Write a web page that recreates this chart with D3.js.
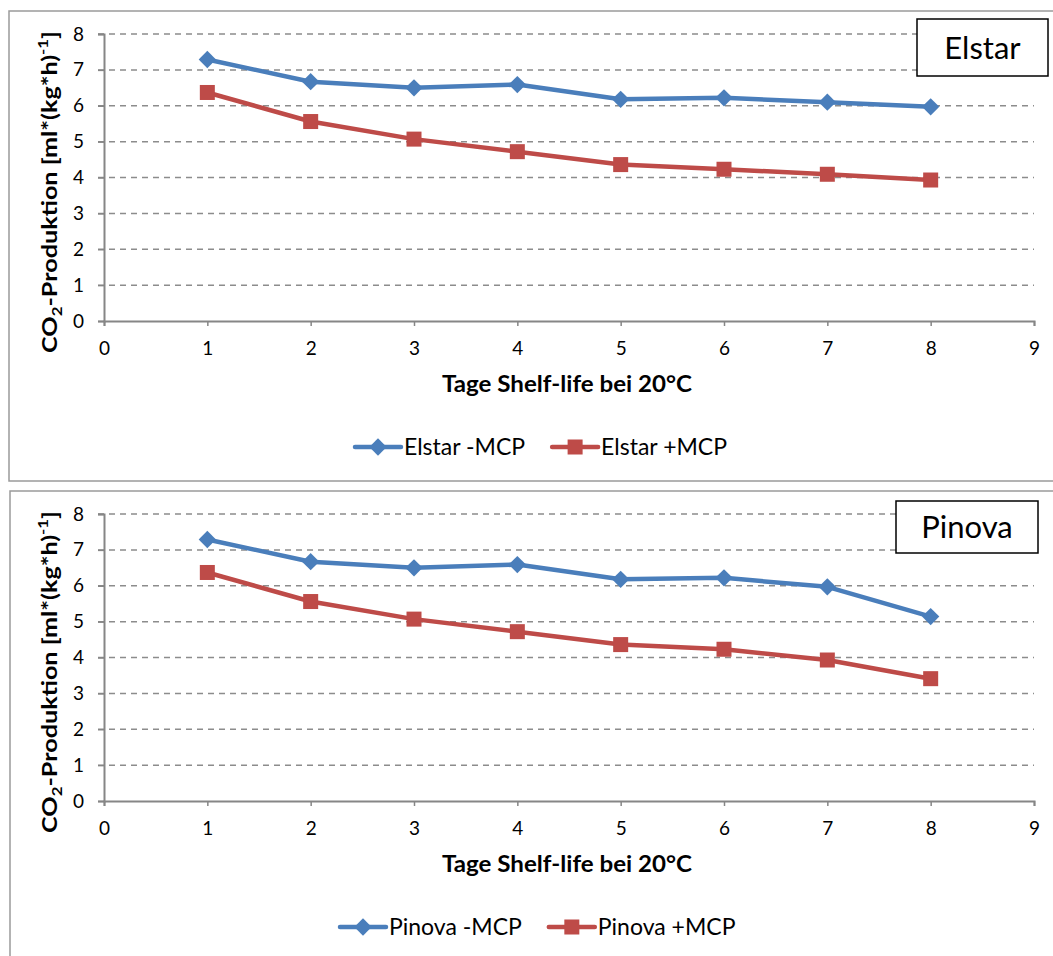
<!DOCTYPE html>
<html><head><meta charset="utf-8">
<script src="https://cdn.jsdelivr.net/npm/d3@7/dist/d3.min.js"></script>
<style>
html,body{margin:0;padding:0;background:#fff;}
svg text{font-family:Lato,"Open Sans",sans-serif;}
</style></head>
<body>
<svg id="chart" width="1053" height="956"></svg>
<script>
// ---- data ----
const days = [1, 2, 3, 4, 5, 6, 7, 8];
const elstarMinusMCP = [7.29, 6.67, 6.50, 6.59, 6.18, 6.22, 6.10, 5.97];
const elstarPlusMCP  = [6.37, 5.56, 5.07, 4.72, 4.36, 4.23, 4.09, 3.93];
const pinovaMinusMCP = [7.29, 6.67, 6.50, 6.59, 6.18, 6.22, 5.97, 5.14];
const pinovaPlusMCP  = [6.37, 5.56, 5.07, 4.72, 4.36, 4.23, 3.93, 3.41];
const xTickValues = [0, 1, 2, 3, 4, 5, 6, 7, 8, 9];
const yTickValues = [0, 1, 2, 3, 4, 5, 6, 7, 8];
const panelTitles = ["Elstar", "Pinova"];
const seriesNames = [["Elstar -MCP", "Elstar +MCP"], ["Pinova -MCP", "Pinova +MCP"]];
const xAxisTitle = "Tage Shelf-life bei 20°C";

const blue = "#4A7EBB", red = "#BE4B48", axisGray = "#868686", gridGray = "#8c8c8c";
const svg = d3.select("#chart");

const x = d3.scaleLinear().domain([0, 9]).range([104, 1034]);

function drawPanel(offsetY, frameX, title, names, minusVals, plusVals, box, legendStart) {
  const g = svg.append("g").attr("transform", `translate(0,${offsetY})`);
  const y = d3.scaleLinear().domain([0, 8]).range([321, 34]);

  // frame
  g.append("rect").attr("x", frameX).attr("y", 11).attr("width", 1100).attr("height", 470)
    .attr("fill", "none").attr("stroke", "#9a9a9a").attr("stroke-width", 1.5);

  // gridlines
  g.append("g").selectAll("line").data(yTickValues.filter(d => d > 0)).join("line")
    .attr("x1", x(0) - 6).attr("x2", x(9)).attr("y1", d => y(d)).attr("y2", d => y(d))
    .attr("stroke", gridGray).attr("stroke-width", 1.5).attr("stroke-dasharray", "6,5");

  // y axis
  const yAxis = g.append("g").attr("transform", `translate(${x(0)},0)`)
    .call(d3.axisLeft(y).tickValues(yTickValues).tickSize(6).tickPadding(14).tickFormat(d3.format("d")));
  yAxis.select(".domain").attr("stroke", axisGray).attr("stroke-width", 2);
  yAxis.selectAll(".tick line").attr("stroke", axisGray).attr("stroke-width", 1.5);
  yAxis.selectAll(".tick text").attr("font-size", 19).attr("fill", "#000").style("font-family", "Lato");

  // x axis
  const xAxis = g.append("g").attr("transform", `translate(0,${y(0)})`)
    .call(d3.axisBottom(x).tickValues(xTickValues).tickSize(5).tickPadding(16).tickFormat(d3.format("d")));
  xAxis.select(".domain").attr("stroke", axisGray).attr("stroke-width", 2);
  xAxis.selectAll(".tick line").attr("stroke", axisGray).attr("stroke-width", 1.5);
  xAxis.selectAll(".tick text").attr("font-size", 19).attr("fill", "#000").style("font-family", "Lato");

  // axis titles
  g.append("text").attr("x", 567).attr("y", 392).attr("text-anchor", "middle")
    .attr("font-size", 22).attr("font-weight", "bold")
    .attr("textLength", 250).attr("lengthAdjust", "spacingAndGlyphs").text(xAxisTitle);

  const yt = g.append("text").attr("transform", "translate(57,192) rotate(-90)")
    .attr("text-anchor", "middle").attr("font-size", 21).attr("font-weight", "bold")
    .attr("textLength", 322).attr("lengthAdjust", "spacingAndGlyphs");
  yt.append("tspan").text("CO");
  yt.append("tspan").attr("font-size", 14).attr("dy", 5).text("2");
  yt.append("tspan").attr("dy", -5).text("-Produktion [ml*(kg*h)");
  yt.append("tspan").attr("font-size", 14).attr("dy", -9).text("-1");
  yt.append("tspan").attr("dy", 9).text("]");

  const line = d3.line().x((d, i) => x(days[i])).y(d => y(d));
  const diamondPath = d3.symbol().type(d3.symbolSquare).size(150)();

  // series lines
  g.append("path").datum(minusVals).attr("d", line).attr("fill", "none")
    .attr("stroke", blue).attr("stroke-width", 4.5).attr("stroke-linejoin", "round");
  g.append("path").datum(plusVals).attr("d", line).attr("fill", "none")
    .attr("stroke", red).attr("stroke-width", 4.5).attr("stroke-linejoin", "round");

  g.append("g").selectAll("path").data(minusVals).join("path")
    .attr("d", diamondPath)
    .attr("transform", (d, i) => `translate(${x(days[i])},${y(d)}) rotate(45)`)
    .attr("fill", blue);
  g.append("g").selectAll("rect").data(plusVals).join("rect")
    .attr("x", (d, i) => x(days[i]) - 7.5).attr("y", d => y(d) - 7.5)
    .attr("width", 15).attr("height", 15).attr("fill", red);

  // title box
  g.append("rect").attr("x", box.x).attr("y", box.y).attr("width", box.w).attr("height", box.h)
    .attr("fill", "#fff").attr("stroke", "#000").attr("stroke-width", 1.5);
  g.append("text").attr("x", box.x + box.w / 2).attr("y", box.y + box.h / 2 + 11)
    .attr("text-anchor", "middle").attr("font-size", 31).text(title);

  // legend
  const ly = 447;
  let lx = legendStart;
  const colors = [blue, red];
  names.forEach((name, k) => {
    const lg = g.append("g");
    lg.append("line").attr("x1", lx).attr("x2", lx + 46).attr("y1", ly).attr("y2", ly)
      .attr("stroke", colors[k]).attr("stroke-width", 4.5).attr("stroke-linecap", "round");
    if (k === 0) {
      lg.append("path").attr("d", diamondPath)
        .attr("transform", `translate(${lx + 23},${ly}) rotate(45)`).attr("fill", colors[k]);
    } else {
      lg.append("rect").attr("x", lx + 23 - 7.5).attr("y", ly - 7.5).attr("width", 15).attr("height", 15)
        .attr("fill", colors[k]);
    }
    const t = lg.append("text").attr("x", lx + 49).attr("y", ly + 8).attr("font-size", 23).text(name);
    lx = lx + 49 + t.node().getComputedTextLength() + 27;
  });
}

drawPanel(0, 9, panelTitles[0], seriesNames[0], elstarMinusMCP, elstarPlusMCP,
  {x: 917, y: 19, w: 131, h: 57}, 355);
drawPanel(480, 10, panelTitles[1], seriesNames[1], pinovaMinusMCP, pinovaPlusMCP,
  {x: 896, y: 21, w: 142, h: 52}, 340);
</script>
</body></html>
